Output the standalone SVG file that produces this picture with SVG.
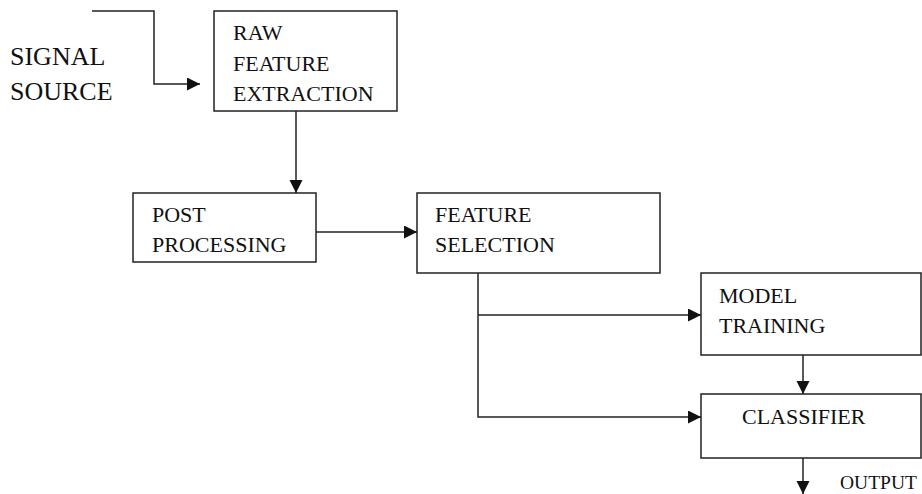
<svg xmlns="http://www.w3.org/2000/svg" width="922" height="494" viewBox="0 0 922 494">
<style>
.box{fill:#fff;stroke:#222;stroke-width:1.5}
.t{font-family:"Liberation Serif","Times New Roman",serif;font-size:22px;fill:#111}
.big{font-size:26px}
.small{font-size:19.5px}
.c{fill:none;stroke:#222;stroke-width:1.5}
</style>
<defs>
<marker id="ah" markerUnits="userSpaceOnUse" markerWidth="14" markerHeight="14" refX="13" refY="6.5" orient="auto">
<path d="M0,0 L13,6.5 L0,13 z" fill="#111"/>
</marker>
</defs>
<rect width="922" height="494" fill="#fff"/>
<g id="signal-source">
<text class="t big" x="10" y="65">SIGNAL</text>
<text class="t big" x="10" y="100">SOURCE</text>
</g>
<g id="raw-feature-extraction">
<rect class="box" x="214" y="11" width="183" height="100"/>
<text class="t" x="233" y="40">RAW</text>
<text class="t" x="233" y="71">FEATURE</text>
<text class="t" x="233" y="101">EXTRACTION</text>
</g>
<g id="post-processing">
<rect class="box" x="133" y="193" width="183" height="69"/>
<text class="t" x="152" y="222">POST</text>
<text class="t" x="152" y="252">PROCESSING</text>
</g>
<g id="feature-selection">
<rect class="box" x="417" y="193" width="243" height="80"/>
<text class="t" x="435" y="222">FEATURE</text>
<text class="t" x="435" y="252">SELECTION</text>
</g>
<g id="model-training">
<rect class="box" x="701" y="273" width="220" height="82"/>
<text class="t" x="719" y="303">MODEL</text>
<text class="t" x="719" y="333">TRAINING</text>
</g>
<g id="classifier">
<rect class="box" x="701" y="394" width="220" height="64"/>
<text class="t" x="742" y="424">CLASSIFIER</text>
</g>
<g id="output">
<text class="t small" x="840" y="489">OUTPUT</text>
</g>
<g id="connectors">
<path class="c" d="M92,11 H154 V84 H200" marker-end="url(#ah)"/>
<path class="c" d="M296,111 V193" marker-end="url(#ah)"/>
<path class="c" d="M316,232 H417" marker-end="url(#ah)"/>
<path class="c" d="M478,273 V417 H701" marker-end="url(#ah)"/>
<path class="c" d="M478,315 H701" marker-end="url(#ah)"/>
<path class="c" d="M803,355 V394" marker-end="url(#ah)"/>
<path class="c" d="M803,458 V494" marker-end="url(#ah)"/>
</g>
</svg>
